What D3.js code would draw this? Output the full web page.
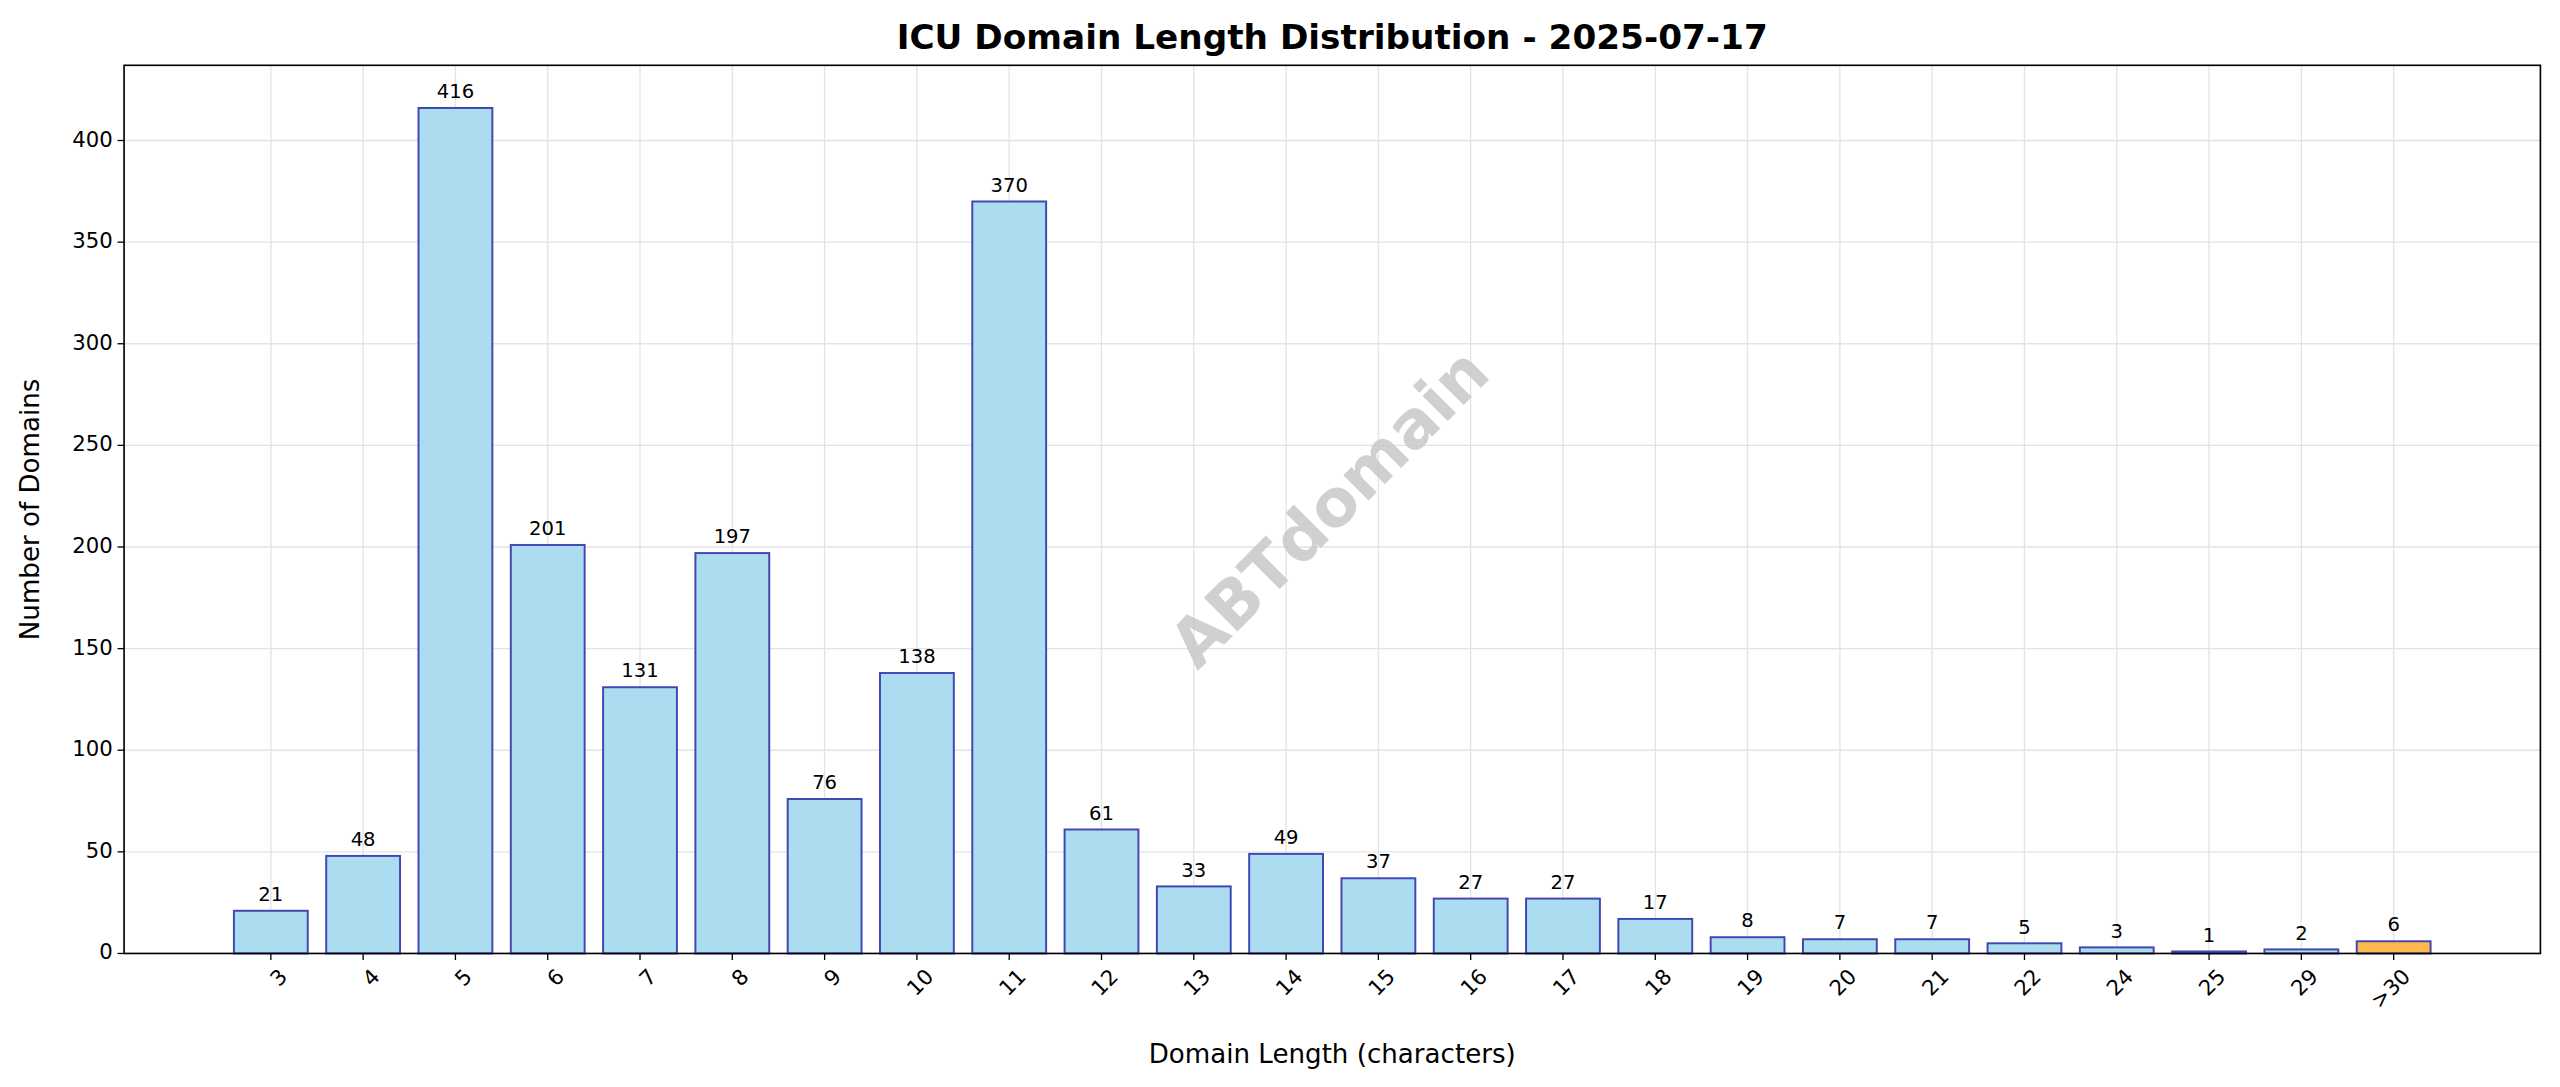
<!DOCTYPE html>
<html><head><meta charset="utf-8">
<script src="https://cdn.jsdelivr.net/npm/d3@7"></script>
<style>body{margin:0;background:#fff}</style></head>
<body><svg id="c" width="2560" height="1087"></svg>
<script>
const categories=["3","4","5","6","7","8","9","10","11","12","13","14","15","16","17","18","19","20","21","22","24","25","29",">30"];
const counts=[21,48,416,201,131,197,76,138,370,61,33,49,37,27,27,17,8,7,7,5,3,1,2,6];
const yTicks=[0,50,100,150,200,250,300,350,400];
const K=2560/1568;
const svg=d3.select("#c").append("g").attr("transform",`scale(${K})`);
const L=76,R=1556,T=40,B=584;
const x=d3.scaleLinear().domain([-1.59,categories.length-1+1.59]).range([L,R]);
const y=d3.scaleLinear().domain([0,437]).range([B,T]);
const font="DejaVu Sans";
const g=svg.append("g");
g.selectAll(".gy").data(yTicks).enter().append("line").attr("x1",L).attr("x2",R).attr("y1",d=>y(d)).attr("y2",d=>y(d)).attr("stroke","#e3e3e3").attr("stroke-width",0.8);
g.selectAll(".gx").data(categories).enter().append("line").attr("y1",T).attr("y2",B).attr("x1",(d,i)=>x(i)).attr("x2",(d,i)=>x(i)).attr("stroke","#e3e3e3").attr("stroke-width",0.8);
svg.append("text").attr("transform","translate(816,313) rotate(-45)").attr("text-anchor","middle").attr("dominant-baseline","middle")
 .attr("font-family",font).attr("font-weight","bold").attr("font-size",40).attr("fill","#c8c8c8").attr("opacity",0.85).text("ABTdomain");
const bw=(x(1)-x(0))*0.8;
g.selectAll(".bar").data(counts).enter().append("rect")
 .attr("x",(d,i)=>x(i)-bw/2).attr("width",bw).attr("y",d=>y(d)).attr("height",d=>B-y(d))
 .attr("fill",(d,i)=>categories[i]===">30"?"#FFB84D":"#ABDCF0").attr("stroke","#4047B5").attr("stroke-width",1.2);
g.selectAll(".lbl").data(counts).enter().append("text").attr("x",(d,i)=>x(i)).attr("y",d=>y(d)-6)
 .attr("text-anchor","middle").attr("font-family",font).attr("font-size",12).attr("fill","#000").text(d=>d);
svg.append("rect").attr("x",L).attr("y",T).attr("width",R-L).attr("height",B-T).attr("fill","none").attr("stroke","#000").attr("stroke-width",1);
yTicks.forEach(t=>{
 svg.append("line").attr("x1",L-4).attr("x2",L).attr("y1",y(t)).attr("y2",y(t)).attr("stroke","#000").attr("stroke-width",0.8);
 svg.append("text").attr("x",L-7).attr("y",y(t)).attr("dominant-baseline","middle").attr("text-anchor","end").attr("font-family",font).attr("font-size",13).text(t);
});
categories.forEach((c,i)=>{
 svg.append("line").attr("x1",x(i)).attr("x2",x(i)).attr("y1",B).attr("y2",B+4).attr("stroke","#000").attr("stroke-width",0.8);
 svg.append("text").attr("transform",`translate(${x(i)+4},${B+8}) rotate(-45)`).attr("text-anchor","end").attr("dominant-baseline","hanging")
  .attr("font-family",font).attr("font-size",13).text(c);
});
svg.append("text").attr("x",(L+R)/2).attr("y",651).attr("text-anchor","middle").attr("font-family",font).attr("font-size",16).text("Domain Length (characters)");
svg.append("text").attr("transform",`translate(24,${(T+B)/2}) rotate(-90)`).attr("text-anchor","middle").attr("font-family",font).attr("font-size",16).text("Number of Domains");
svg.append("text").attr("x",(L+R)/2).attr("y",30).attr("text-anchor","middle").attr("font-family",font).attr("font-weight","bold").attr("font-size",21).text("ICU Domain Length Distribution - 2025-07-17");
</script></body></html>
